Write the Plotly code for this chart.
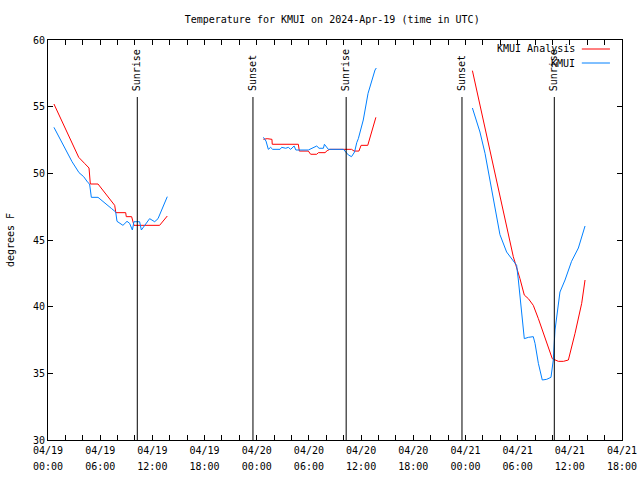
import plotly.graph_objects as go

# ---- data ----
analysis_time = [
    "2024-04-19 00:41", "2024-04-19 03:32", "2024-04-19 04:12", "2024-04-19 04:43",
    "2024-04-19 04:52", "2024-04-19 05:45", "2024-04-19 07:40", "2024-04-19 07:48",
    "2024-04-19 08:56", "2024-04-19 09:00", "2024-04-19 09:37", "2024-04-19 09:53",
    "2024-04-19 12:50", "2024-04-19 13:43",
    None,
    "2024-04-20 00:46", "2024-04-20 01:12", "2024-04-20 01:45", "2024-04-20 01:47",
    "2024-04-20 04:47", "2024-04-20 04:54", "2024-04-20 05:56", "2024-04-20 06:12",
    "2024-04-20 06:54", "2024-04-20 07:05", "2024-04-20 07:51", "2024-04-20 08:06",
    "2024-04-20 08:24", "2024-04-20 10:54", "2024-04-20 11:12", "2024-04-20 11:45",
    "2024-04-20 12:00", "2024-04-20 12:46", "2024-04-20 13:42",
    None,
    "2024-04-21 00:48", "2024-04-21 04:44", "2024-04-21 05:30", "2024-04-21 06:16",
    "2024-04-21 06:46", "2024-04-21 07:14", "2024-04-21 07:48", "2024-04-21 08:23",
    "2024-04-21 09:09", "2024-04-21 09:43", "2024-04-21 09:59", "2024-04-21 10:41",
    "2024-04-21 11:16", "2024-04-21 11:50", "2024-04-21 12:36", "2024-04-21 13:22",
    "2024-04-21 13:45",
]
analysis_temp = [
    55.2, 51.2, 50.75, 50.4,
    49.2, 49.2, 47.6, 47.05,
    47.05, 46.75, 46.75, 46.1,
    46.1, 46.8,
    None,
    52.55, 52.6, 52.55, 52.18,
    52.18, 51.67, 51.67, 51.43,
    51.43, 51.55, 51.55, 51.7,
    51.8, 51.8, 51.67, 51.67,
    52.1, 52.1, 54.2,
    None,
    57.7, 45.88, 43.75, 42.1,
    40.87, 40.6, 40.1, 39.1,
    37.75, 36.6, 36.1, 35.9,
    35.9, 36.0, 38.0, 40.25,
    42.0,
]

obs_time = [
    "2024-04-19 00:41", "2024-04-19 02:46", "2024-04-19 03:34", "2024-04-19 04:06",
    "2024-04-19 04:36", "2024-04-19 04:47", "2024-04-19 04:59", "2024-04-19 05:45",
    "2024-04-19 07:17", "2024-04-19 07:47", "2024-04-19 07:56", "2024-04-19 08:37",
    "2024-04-19 09:05", "2024-04-19 09:23", "2024-04-19 09:42", "2024-04-19 09:53",
    "2024-04-19 10:32", "2024-04-19 10:44", "2024-04-19 11:41", "2024-04-19 12:16",
    "2024-04-19 12:39", "2024-04-19 13:43",
    None,
    "2024-04-20 00:46", "2024-04-20 01:04", "2024-04-20 01:20", "2024-04-20 01:36",
    "2024-04-20 01:50", "2024-04-20 02:41", "2024-04-20 02:52", "2024-04-20 03:20",
    "2024-04-20 03:38", "2024-04-20 03:54", "2024-04-20 04:18", "2024-04-20 04:30",
    "2024-04-20 05:56", "2024-04-20 06:18", "2024-04-20 06:54", "2024-04-20 07:10",
    "2024-04-20 07:40", "2024-04-20 07:47", "2024-04-20 08:14", "2024-04-20 09:58",
    "2024-04-20 10:32", "2024-04-20 10:54", "2024-04-20 11:15", "2024-04-20 11:30",
    "2024-04-20 11:41", "2024-04-20 12:15", "2024-04-20 12:48", "2024-04-20 13:36",
    "2024-04-20 13:45",
    None,
    "2024-04-21 00:48", "2024-04-21 01:40", "2024-04-21 02:15", "2024-04-21 02:49",
    "2024-04-21 03:28", "2024-04-21 03:58", "2024-04-21 04:44", "2024-04-21 05:18",
    "2024-04-21 05:53", "2024-04-21 06:05", "2024-04-21 06:23", "2024-04-21 06:46",
    "2024-04-21 07:14", "2024-04-21 07:48", "2024-04-21 08:00", "2024-04-21 08:23",
    "2024-04-21 08:50", "2024-04-21 09:20", "2024-04-21 09:50", "2024-04-21 10:06",
    "2024-04-21 10:18", "2024-04-21 10:36", "2024-04-21 10:52", "2024-04-21 11:27",
    "2024-04-21 12:12", "2024-04-21 12:59", "2024-04-21 13:45",
]
obs_temp = [
    53.45, 50.87, 50.05, 49.75,
    49.3, 49.2, 48.2, 48.2,
    47.37, 47.1, 46.4, 46.1,
    46.4, 46.25, 45.75, 46.37,
    46.37, 45.75, 46.6, 46.37,
    46.6, 48.25,
    None,
    52.7, 52.42, 51.8, 51.95,
    51.8, 51.8, 51.95, 51.88,
    51.95, 51.8, 52.05, 51.75,
    51.75, 51.88, 52.05, 51.88,
    51.88, 52.18, 51.8, 51.8,
    51.38, 51.25, 51.6, 52.3,
    52.6, 54.0, 56.0, 57.75,
    57.9,
    None,
    54.9, 53.1, 51.5, 49.5,
    47.25, 45.4, 44.1, 43.6,
    43.1, 42.0, 39.9, 37.6,
    37.7, 37.75, 37.25, 35.75,
    34.5, 34.55, 34.7, 36.0,
    38.25, 39.75, 41.1, 42.0,
    43.4, 44.4, 46.05,
]

sun_event_time = ["2024-04-19 10:16", "2024-04-19 23:34", "2024-04-20 10:17",
                  "2024-04-20 23:36", "2024-04-21 10:13"]
sun_event_label = ["Sunrise", "Sunset", "Sunrise", "Sunset", "Sunrise"]

x_tick_vals = ["2024-04-19 00:00", "2024-04-19 06:00", "2024-04-19 12:00", "2024-04-19 18:00",
               "2024-04-20 00:00", "2024-04-20 06:00", "2024-04-20 12:00", "2024-04-20 18:00",
               "2024-04-21 00:00", "2024-04-21 06:00", "2024-04-21 12:00", "2024-04-21 18:00"]
x_tick_date = ["04/19", "04/19", "04/19", "04/19",
               "04/20", "04/20", "04/20", "04/20",
               "04/21", "04/21", "04/21", "04/21"]
x_tick_hour = ["00:00", "06:00", "12:00", "18:00",
               "00:00", "06:00", "12:00", "18:00",
               "00:00", "06:00", "12:00", "18:00"]
y_tick_vals = [30, 35, 40, 45, 50, 55, 60]

series_names = ["KMUI Analysis", "KMUI"]
series_colors = ["#ff0000", "#0080ff"]

FONT = "DejaVu Sans Mono"
X_RANGE = ["2024-04-19 00:00", "2024-04-21 18:00"]

fig = go.Figure()
fig.add_trace(go.Scatter(x=analysis_time, y=analysis_temp, mode="lines", name=series_names[0],
                         line=dict(color=series_colors[0], width=1), connectgaps=False,
                         showlegend=False))
fig.add_trace(go.Scatter(x=obs_time, y=obs_temp, mode="lines", name=series_names[1],
                         line=dict(color=series_colors[1], width=1), connectgaps=False,
                         showlegend=False))
# empty helper trace so the second (time-of-day) label axis is drawn
fig.add_trace(go.Scatter(x=[], y=[], xaxis="x2", yaxis="y", showlegend=False, hoverinfo="skip"))

shapes = []
annotations = []
for t, lab in zip(sun_event_time, sun_event_label):
    shapes.append(dict(type="line", xref="x", yref="paper", x0=t, x1=t, y0=0, y1=0.8575,
                       line=dict(color="black", width=1)))
    annotations.append(dict(x=t, y=0.8675, xref="x", yref="paper", text=lab, showarrow=False,
                            textangle=-90, xanchor="center", yanchor="bottom",
                            font=dict(family=FONT, size=10, color="black")))

# manual legend (text to the left of the line sample, like gnuplot)
for i, (nm, col) in enumerate(zip(series_names, series_colors)):
    yp = 0.9775 - i * 0.035
    annotations.append(dict(x=0.921, y=yp, xref="paper", yref="paper", text=nm, showarrow=False,
                            xanchor="right", yanchor="middle",
                            font=dict(family=FONT, size=10, color="black")))
    shapes.append(dict(type="line", xref="paper", yref="paper", x0=0.930, x1=0.979, y0=yp, y1=yp,
                       line=dict(color=col, width=1)))

annotations.append(dict(x=-0.066, y=0.5, xref="paper", yref="paper", text="degrees F",
                        showarrow=False, textangle=-90, xanchor="center", yanchor="middle",
                        font=dict(family=FONT, size=10, color="black")))

fig.update_layout(
    width=640, height=480,
    margin=dict(l=48, r=18, t=40, b=40, autoexpand=False),
    paper_bgcolor="white", plot_bgcolor="white",
    font=dict(family=FONT, size=10, color="black"),
    title=dict(text="Temperature for KMUI on 2024-Apr-19 (time in UTC)", x=0.519, xref="container",
               xanchor="center", y=1 - 19 / 480, yanchor="middle",
               font=dict(family=FONT, size=10, color="black")),
    shapes=shapes, annotations=annotations,
    showlegend=False,
    xaxis=dict(
        type="date", range=X_RANGE, automargin=False,
        tickmode="array", tickvals=x_tick_vals, ticktext=x_tick_date,
        ticks="inside", ticklen=5, tickcolor="black", tickwidth=1, ticklabelstandoff=1,
        minor=dict(dtick=2 * 3600 * 1000, tick0="2024-04-19 00:00", ticks="inside", ticklen=5,
                   tickcolor="black", showgrid=False),
        showgrid=False, zeroline=False, showline=True, linecolor="black", linewidth=1,
        mirror="ticks", tickfont=dict(family=FONT, size=10, color="black"),
    ),
    xaxis2=dict(
        type="date", range=X_RANGE, automargin=False, overlaying="x", side="bottom",
        anchor="y", matches="x",
        tickmode="array", tickvals=x_tick_vals, ticktext=x_tick_hour,
        ticks="", ticklabelstandoff=19,
        showgrid=False, zeroline=False, showline=False,
        tickfont=dict(family=FONT, size=10, color="black"),
    ),
    yaxis=dict(
        range=[30, 60], tickmode="array", tickvals=y_tick_vals, automargin=False,
        ticks="inside", ticklen=5, tickcolor="black", tickwidth=1,
        showgrid=False, zeroline=False, showline=True, linecolor="black", linewidth=1,
        mirror="ticks", tickfont=dict(family=FONT, size=10, color="black"),
    ),
)

fig.write_html("out.html", config={"displayModeBar": False},
               post_script="document.body.style.margin='0px';document.body.style.overflow='hidden';")
